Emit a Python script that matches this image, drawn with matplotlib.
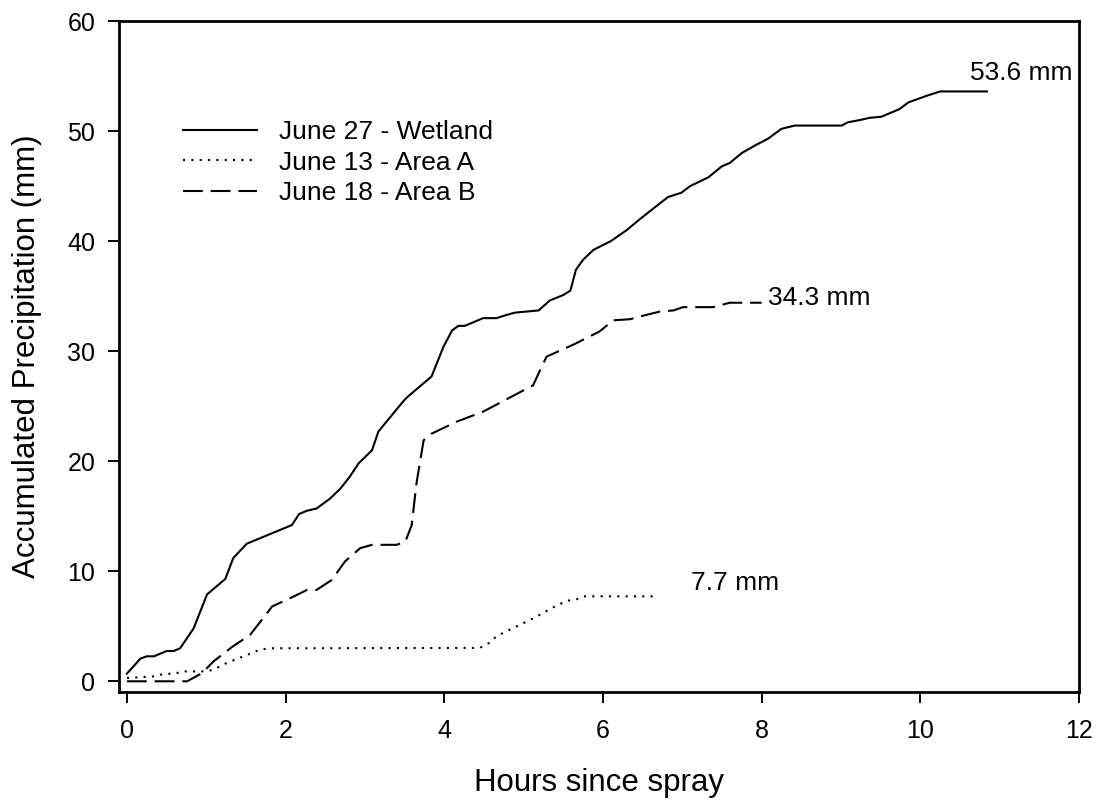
import numpy as np
import matplotlib
matplotlib.use("Agg")
import matplotlib.pyplot as plt

plt.rcParams['font.family'] = ['Liberation Sans', 'DejaVu Sans']

# June 27 - Wetland (solid)
wet_h = [0.0, 0.17, 0.25, 0.34, 0.50, 0.59, 0.67, 0.84, 1.01, 1.24, 1.34, 1.51,
         2.08, 2.17, 2.27, 2.39, 2.56, 2.69, 2.81, 2.92, 3.09, 3.17, 3.49, 3.53,
         3.84, 3.99, 4.10, 4.18, 4.26, 4.49, 4.66, 4.79, 4.89, 5.04, 5.19, 5.33,
         5.50, 5.59, 5.66, 5.75, 5.88, 6.10, 6.30, 6.45, 6.59, 6.82, 6.99, 7.10,
         7.33, 7.50, 7.60, 7.75, 7.92, 8.08, 8.25, 8.42, 9.01, 9.09, 9.24, 9.36,
         9.51, 9.74, 9.85, 10.08, 10.25, 10.84]
wet_mm = [0.7, 2.06, 2.27, 2.27, 2.75, 2.75, 3.0, 4.8, 7.9, 9.3, 11.2, 12.5,
          14.2, 15.2, 15.5, 15.7, 16.6, 17.5, 18.6, 19.8, 21.0, 22.7, 25.5, 25.8,
          27.7, 30.4, 31.9, 32.3, 32.3, 33.0, 33.0, 33.3, 33.5, 33.6, 33.7, 34.6,
          35.1, 35.5, 37.4, 38.3, 39.2, 40.0, 41.0, 41.9, 42.7, 44.0, 44.4, 45.0,
          45.8, 46.8, 47.1, 48.0, 48.7, 49.3, 50.2, 50.5, 50.5, 50.8, 51.0, 51.2,
          51.3, 52.0, 52.6, 53.2, 53.6, 53.6]

# June 13 - Area A (dotted)
a_h = [0.0, 0.34, 0.42, 0.63, 0.69, 1.0, 1.09, 1.26, 1.47, 1.68, 1.81, 4.37,
       4.47, 4.57, 4.66, 4.77, 4.87, 4.96, 5.07, 5.17, 5.26, 5.36, 5.46, 5.56,
       5.66, 5.75, 6.66]
a_mm = [0.3, 0.45, 0.6, 0.75, 0.9, 0.9, 1.06, 1.67, 2.27, 2.88, 3.0, 3.03,
        3.1, 3.5, 4.1, 4.5, 4.85, 5.15, 5.54, 5.9, 6.27, 6.66, 7.03, 7.33,
        7.42, 7.72, 7.72]

# June 18 - Area B (dashed)
b_h = [0.0, 0.76, 0.95, 1.09, 1.34, 1.55, 1.68, 1.83, 2.10, 2.27, 2.39, 2.58,
       2.75, 2.94, 3.09, 3.40, 3.51, 3.59, 3.65, 3.74, 3.84, 4.16, 4.49, 4.70,
       5.12, 5.21, 5.29, 5.63, 5.96, 6.13, 6.34, 6.55, 6.72, 6.89, 7.01, 7.39,
       7.60, 8.00]
b_mm = [0.0, 0.0, 0.76, 1.8, 3.2, 4.2, 5.4, 6.8, 7.7, 8.3, 8.3, 9.2,
        10.9, 12.1, 12.4, 12.4, 12.7, 14.2, 18.0, 21.9, 22.5, 23.6, 24.5, 25.3,
        26.9, 28.3, 29.5, 30.6, 31.8, 32.8, 32.9, 33.3, 33.6, 33.7, 34.0, 34.0,
        34.4, 34.4]

totals = ["53.6 mm", "34.3 mm", "7.7 mm"]
total_pos = [(10.63, 55.3), (8.08, 34.85), (7.11, 8.94)]

fig = plt.figure(figsize=(11.02, 8.08), dpi=100)
ax = fig.add_axes([0.108, 0.1432, 0.871, 0.8308])

ax.plot(wet_h, wet_mm, color='black', lw=1.5, linestyle='-', label='June 27 - Wetland')
ax.plot(a_h, a_mm, color='black', lw=1.5, linestyle=(0, (1, 3)), label='June 13 - Area A')
ax.plot(b_h, b_mm, color='black', lw=1.5, linestyle=(0, (9.5, 3.8)), label='June 18 - Area B')

for txt, (x, y) in zip(totals, total_pos):
    ax.text(x, y, txt, fontsize=19, ha='left', va='center')

ax.set_xlim(-0.1, 12)
ax.set_ylim(-1, 60)
ax.set_xticks(np.arange(0, 13, 2))
ax.set_yticks(np.arange(0, 61, 10))

for s in ax.spines.values():
    s.set_linewidth(2)
ax.tick_params(axis='both', direction='out', length=8, width=1.4, labelsize=18)
ax.tick_params(axis='x', pad=11)
ax.tick_params(axis='y', pad=9)

ax.set_xlabel('Hours since spray', fontsize=22.5, labelpad=18)
ax.set_ylabel('Accumulated Precipitation (mm)', fontsize=22.5, labelpad=18)

ax.legend(loc='upper left', bbox_to_anchor=(0.0667, 0.852), frameon=False,
          fontsize=19, handlelength=2.8, handletextpad=0.83, labelspacing=0.24,
          borderpad=0, borderaxespad=0)

fig.savefig('out.png', dpi=100)
